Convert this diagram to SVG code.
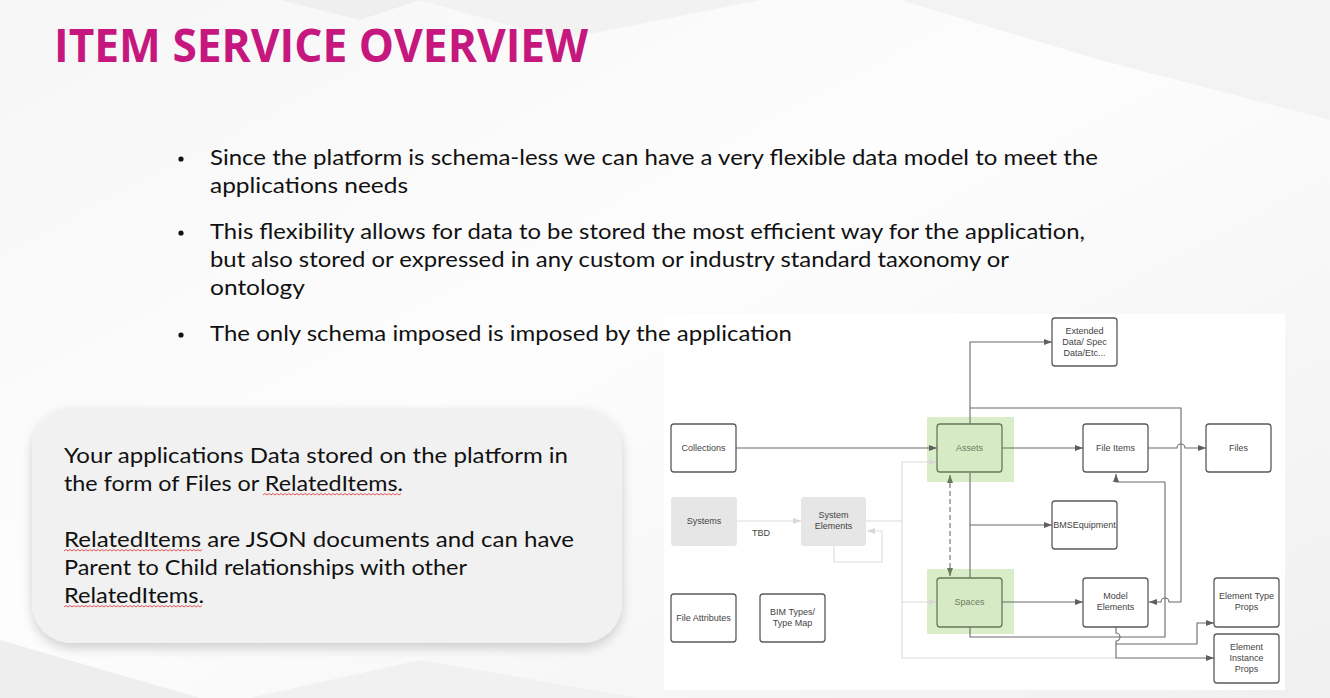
<svg xmlns="http://www.w3.org/2000/svg" width="1330" height="698" viewBox="0 0 1330 698">
<defs>
<style>
.title{font-family:"Open Sans","Liberation Sans",sans-serif;font-weight:700;font-size:46px;fill:#c5177e}
.body{font-family:Lato,"Open Sans","Liberation Sans",sans-serif;font-size:22px;fill:#111}
.nt{font-family:"Liberation Sans",Arial,sans-serif;font-size:9px;fill:#444;text-anchor:middle}
.gt{font-family:"Liberation Sans",Arial,sans-serif;font-size:9px;fill:#6b7d5e;text-anchor:middle}
.box{fill:#fff;stroke:#5a5a5a;stroke-width:1.3}
.gbox{fill:#e6e6e6;stroke:none}
.hl{fill:#d9edc8}
.grn{fill:#d6eac6;stroke:#66795a;stroke-width:1.3}
.c{fill:none;stroke:#6a6a6a;stroke-width:1.1;stroke-linejoin:round}
.cl{fill:none;stroke:#dcdcdc;stroke-width:1.1}
.sq{fill:none;stroke:#e03030;stroke-width:0.8}
</style>
<marker id="a" viewBox="0 0 8 6" refX="8" refY="3" markerWidth="8" markerHeight="6" markerUnits="userSpaceOnUse" orient="auto-start-reverse"><path d="M0,0L8,3L0,6z" fill="#5f5f5f"/></marker>
<marker id="al" viewBox="0 0 8 6" refX="8" refY="3" markerWidth="8" markerHeight="6" markerUnits="userSpaceOnUse" orient="auto"><path d="M0,0L8,3L0,6z" fill="#d8d8d8"/></marker>
<marker id="ag" viewBox="0 0 8 6" refX="8" refY="3" markerWidth="8" markerHeight="6" markerUnits="userSpaceOnUse" orient="auto-start-reverse"><path d="M0,0L8,3L0,6z" fill="#66795a"/></marker>
<linearGradient id="bg" x1="0" y1="0" x2="1" y2="1"><stop offset="0" stop-color="#f6f6f6"/><stop offset="0.45" stop-color="#fdfdfd"/><stop offset="1" stop-color="#f0f0f0"/></linearGradient>
<filter id="sh" x="-10%" y="-10%" width="120%" height="130%"><feGaussianBlur in="SourceAlpha" stdDeviation="6"/><feOffset dy="5"/><feComponentTransfer><feFuncA type="linear" slope="0.18"/></feComponentTransfer><feMerge><feMergeNode/><feMergeNode in="SourceGraphic"/></feMerge></filter>
</defs>

<!-- background -->
<rect x="0" y="0" width="1330" height="698" fill="url(#bg)"/>
<polygon points="280,0 360,20 420,0" fill="#efefef"/>
<polygon points="420,0 560,40 760,0" fill="#f2f2f2"/>
<polygon points="900,0 1330,0 1330,120 1100,60" fill="#f3f3f3"/>
<polygon points="0,640 200,698 0,698" fill="#eeeeee"/>
<polygon points="250,698 420,660 640,698" fill="#f1f1f1"/>

<!-- title -->
<text class="title" x="54" y="62" textLength="534" lengthAdjust="spacingAndGlyphs">ITEM SERVICE OVERVIEW</text>

<!-- diagram panel -->
<rect x="664" y="314" width="621" height="376" fill="#ffffff"/>

<!-- bullets -->
<g id="bullets">
<circle cx="181" cy="159" r="2.6" fill="#111"/>
<circle cx="181" cy="233" r="2.6" fill="#111"/>
<circle cx="181" cy="335" r="2.6" fill="#111"/>
<text class="body" x="210" y="165" textLength="888" lengthAdjust="spacingAndGlyphs">Since the platform is schema-less we can have a very flexible data model to meet the</text>
<text class="body" x="210" y="193" textLength="198" lengthAdjust="spacingAndGlyphs">applications needs</text>
<text class="body" x="210" y="239" textLength="875" lengthAdjust="spacingAndGlyphs">This flexibility allows for data to be stored the most efficient way for the application,</text>
<text class="body" x="210" y="267" textLength="799" lengthAdjust="spacingAndGlyphs">but also stored or expressed in any custom or industry standard taxonomy or</text>
<text class="body" x="210" y="295" textLength="95" lengthAdjust="spacingAndGlyphs">ontology</text>
<text class="body" x="210" y="341" textLength="582" lengthAdjust="spacingAndGlyphs">The only schema imposed is imposed by the application</text>
</g>

<!-- left callout -->
<g id="callout">
<rect x="32" y="408" width="590" height="235" rx="40" fill="#f1f1f1" filter="url(#sh)"/>
<text class="body" x="64" y="463" textLength="504" lengthAdjust="spacingAndGlyphs">Your applications Data stored on the platform in</text>
<text class="body" x="64" y="491" textLength="339" lengthAdjust="spacingAndGlyphs">the form of Files or RelatedItems.</text>
<text class="body" x="64" y="547" textLength="510" lengthAdjust="spacingAndGlyphs">RelatedItems are JSON documents and can have</text>
<text class="body" x="64" y="575" textLength="403" lengthAdjust="spacingAndGlyphs">Parent to Child relationships with other</text>
<text class="body" x="64" y="603" textLength="140" lengthAdjust="spacingAndGlyphs">RelatedItems.</text>
<path class="sq" d="M263,495 l2,-1.5 l2,1.5 l2,-1.5 l2,1.5 l2,-1.5 l2,1.5 l2,-1.5 l2,1.5 l2,-1.5 l2,1.5 l2,-1.5 l2,1.5 l2,-1.5 l2,1.5 l2,-1.5 l2,1.5 l2,-1.5 l2,1.5 l2,-1.5 l2,1.5 l2,-1.5 l2,1.5 l2,-1.5 l2,1.5 l2,-1.5 l2,1.5 l2,-1.5 l2,1.5 l2,-1.5 l2,1.5 l2,-1.5 l2,1.5 l2,-1.5 l2,1.5 l2,-1.5 l2,1.5 l2,-1.5 l2,1.5 l2,-1.5 l2,1.5 l2,-1.5 l2,1.5 l2,-1.5 l2,1.5 l2,-1.5 l2,1.5 l2,-1.5 l2,1.5 l2,-1.5 l2,1.5 l2,-1.5 l2,1.5 l2,-1.5 l2,1.5 l2,-1.5 l2,1.5 l2,-1.5 l2,1.5 l2,-1.5 l2,1.5 l2,-1.5 l2,1.5 l2,-1.5 l2,1.5 l2,-1.5 l2,1.5 l2,-1.5 l2,1.5 l2,-1.5"/>
<path class="sq" d="M64,551 l2,-1.5 l2,1.5 l2,-1.5 l2,1.5 l2,-1.5 l2,1.5 l2,-1.5 l2,1.5 l2,-1.5 l2,1.5 l2,-1.5 l2,1.5 l2,-1.5 l2,1.5 l2,-1.5 l2,1.5 l2,-1.5 l2,1.5 l2,-1.5 l2,1.5 l2,-1.5 l2,1.5 l2,-1.5 l2,1.5 l2,-1.5 l2,1.5 l2,-1.5 l2,1.5 l2,-1.5 l2,1.5 l2,-1.5 l2,1.5 l2,-1.5 l2,1.5 l2,-1.5 l2,1.5 l2,-1.5 l2,1.5 l2,-1.5 l2,1.5 l2,-1.5 l2,1.5 l2,-1.5 l2,1.5 l2,-1.5 l2,1.5 l2,-1.5 l2,1.5 l2,-1.5 l2,1.5 l2,-1.5 l2,1.5 l2,-1.5 l2,1.5 l2,-1.5 l2,1.5 l2,-1.5 l2,1.5 l2,-1.5 l2,1.5 l2,-1.5 l2,1.5 l2,-1.5 l2,1.5 l2,-1.5 l2,1.5 l2,-1.5 l2,1.5 l2,-1.5"/>
<path class="sq" d="M64,607 l2,-1.5 l2,1.5 l2,-1.5 l2,1.5 l2,-1.5 l2,1.5 l2,-1.5 l2,1.5 l2,-1.5 l2,1.5 l2,-1.5 l2,1.5 l2,-1.5 l2,1.5 l2,-1.5 l2,1.5 l2,-1.5 l2,1.5 l2,-1.5 l2,1.5 l2,-1.5 l2,1.5 l2,-1.5 l2,1.5 l2,-1.5 l2,1.5 l2,-1.5 l2,1.5 l2,-1.5 l2,1.5 l2,-1.5 l2,1.5 l2,-1.5 l2,1.5 l2,-1.5 l2,1.5 l2,-1.5 l2,1.5 l2,-1.5 l2,1.5 l2,-1.5 l2,1.5 l2,-1.5 l2,1.5 l2,-1.5 l2,1.5 l2,-1.5 l2,1.5 l2,-1.5 l2,1.5 l2,-1.5 l2,1.5 l2,-1.5 l2,1.5 l2,-1.5 l2,1.5 l2,-1.5 l2,1.5 l2,-1.5 l2,1.5 l2,-1.5 l2,1.5 l2,-1.5 l2,1.5 l2,-1.5 l2,1.5 l2,-1.5 l2,1.5 l2,-1.5"/>
</g>

<!-- green highlights -->
<rect class="hl" x="927" y="417" width="87" height="65"/>
<rect class="hl" x="927" y="569" width="87" height="65"/>

<!-- connectors -->
<g id="connectors">
<path class="cl" d="M737,521 H801" marker-end="url(#al)"/>
<path class="cl" d="M834,546 V562 H882 V531 H867" marker-end="url(#al)"/>
<path class="cl" d="M866,521 H902 V462 H937" marker-end="url(#al)"/>
<path class="cl" d="M902,521 V602 H937" marker-end="url(#al)"/>
<path class="cl" d="M902,602 V658 H1116"/>
<path class="c" d="M736,448 H937" marker-end="url(#a)"/>
<path class="c" d="M970,424 V342 H1052" marker-end="url(#a)"/>
<path class="c" d="M970,408 H1181 V602 H1169 a4,4 0 0 0 -8,0 H1149" marker-end="url(#a)"/>
<path class="c" d="M1002,448 H1083" marker-end="url(#a)"/>
<path class="c" d="M1148,448 H1177 a4,4 0 0 1 8,0 H1206" marker-end="url(#a)"/>
<path class="c" d="M970,473 V525 H1052" marker-end="url(#a)"/>
<path class="c" d="M970,578 V525"/>
<path d="M950,475 V576" fill="none" stroke="#6f6f6f" stroke-width="1.1" stroke-dasharray="5,3" marker-start="url(#ag)" marker-end="url(#ag)"/>
<path class="c" d="M1002,602 H1083" marker-end="url(#a)"/>
<path class="c" d="M970,627 V637 H1165 V482 H1116 V474" marker-end="url(#a)"/>
<path class="c" d="M1116,627 V633 a4,4 0 0 1 0,8 V644 H1197 V623 H1214" marker-end="url(#a)"/>
<path class="c" d="M1116,644 V658 H1214" marker-end="url(#a)"/>
</g>

<!-- nodes -->
<g id="n-collections"><rect class="box" x="671" y="424" width="65" height="48" rx="3"/><text class="nt" x="703.5" y="451">Collections</text></g>
<g id="n-systems"><rect class="gbox" x="671" y="497" width="66" height="49" rx="3"/><text class="nt" x="704" y="524">Systems</text></g>
<g id="n-tbd"><text class="nt" x="761" y="536">TBD</text></g>
<g id="n-sysel"><rect class="gbox" x="801" y="497" width="65" height="49" rx="3"/><text class="nt" x="833.5" y="518">System</text><text class="nt" x="833.5" y="529">Elements</text></g>
<g id="n-fileattr"><rect class="box" x="671" y="594" width="65" height="48" rx="3"/><text class="nt" x="703.5" y="621">File Attributes</text></g>
<g id="n-bim"><rect class="box" x="760" y="594" width="65" height="48" rx="3"/><text class="nt" x="792.5" y="615">BIM Types/</text><text class="nt" x="792.5" y="626">Type Map</text></g>
<g id="n-assets"><rect class="grn" x="937" y="424" width="65" height="48" rx="3"/><text class="gt" x="969.5" y="451">Assets</text></g>
<g id="n-spaces"><rect class="grn" x="937" y="578" width="65" height="49" rx="3"/><text class="gt" x="969.5" y="605">Spaces</text></g>
<g id="n-ext"><rect class="box" x="1052" y="318" width="65" height="48" rx="3"/><text class="nt" x="1084.5" y="334">Extended</text><text class="nt" x="1084.5" y="345">Data/ Spec</text><text class="nt" x="1084.5" y="356">Data/Etc...</text></g>
<g id="n-fileitems"><rect class="box" x="1083" y="424" width="65" height="48" rx="3"/><text class="nt" x="1115.5" y="451">File Items</text></g>
<g id="n-files"><rect class="box" x="1206" y="424" width="65" height="48" rx="3"/><text class="nt" x="1238.5" y="451">Files</text></g>
<g id="n-bms"><rect class="box" x="1052" y="501" width="65" height="48" rx="3"/><text class="nt" x="1084.5" y="528">BMSEquipment</text></g>
<g id="n-model"><rect class="box" x="1083" y="578" width="65" height="49" rx="3"/><text class="nt" x="1115.5" y="599">Model</text><text class="nt" x="1115.5" y="610">Elements</text></g>
<g id="n-etype"><rect class="box" x="1214" y="578" width="65" height="49" rx="3"/><text class="nt" x="1246.5" y="599">Element Type</text><text class="nt" x="1246.5" y="610">Props</text></g>
<g id="n-einst"><rect class="box" x="1214" y="634" width="65" height="49" rx="3"/><text class="nt" x="1246.5" y="650">Element</text><text class="nt" x="1246.5" y="661">Instance</text><text class="nt" x="1246.5" y="672">Props</text></g>
</svg>
